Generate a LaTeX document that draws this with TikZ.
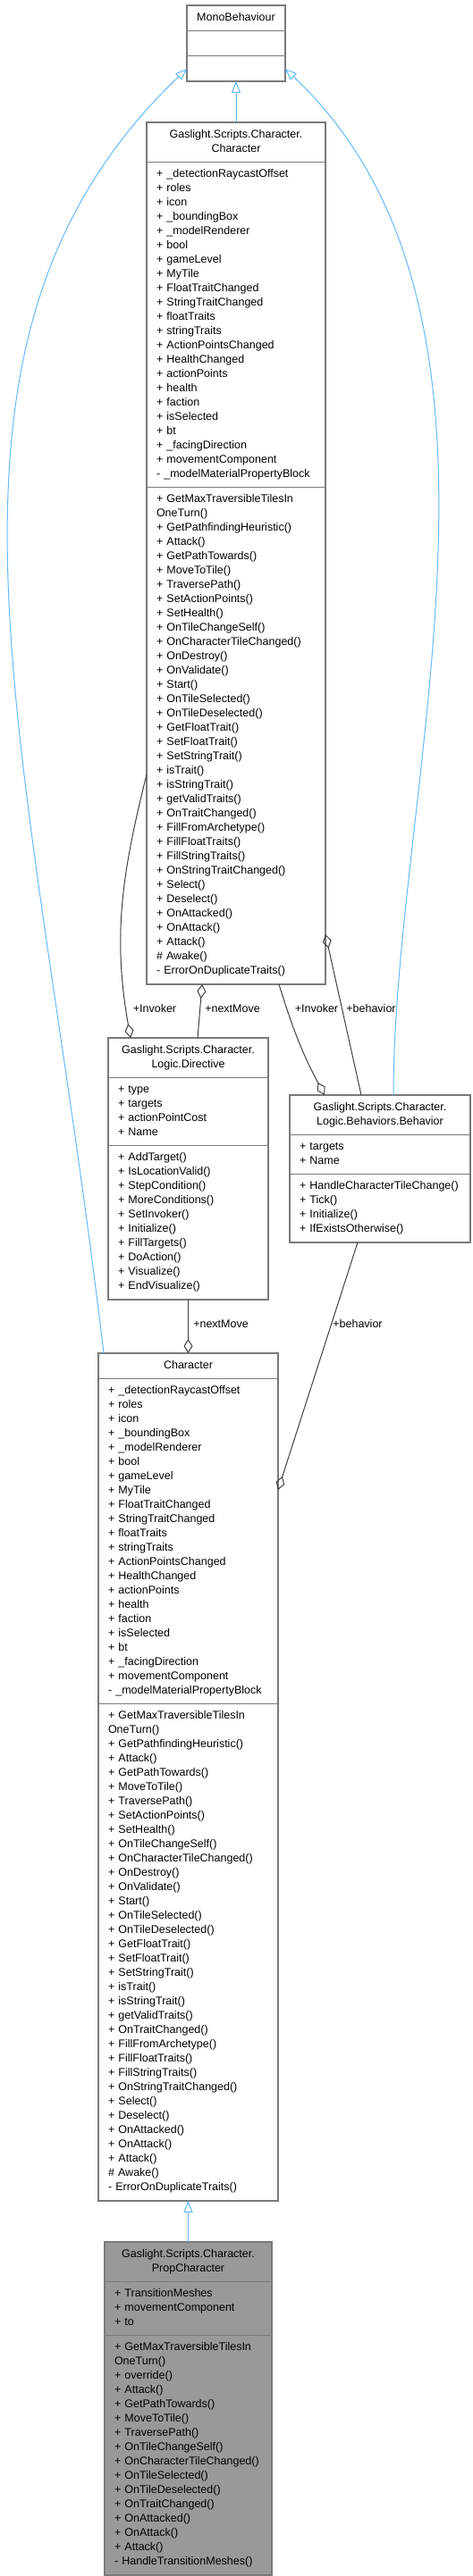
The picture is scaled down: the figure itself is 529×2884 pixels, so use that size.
\documentclass[tikz,border=0pt]{standalone}
\usepackage{fontspec}
\newfontfamily\doxyfont{Liberation Sans}
\usetikzlibrary{arrows.meta,shapes.multipart,calc}
\definecolor{doxyBorder}{HTML}{7A7A7A}
\definecolor{doxyFill}{HTML}{999999}
\definecolor{doxyBlue}{HTML}{63B8FF}
\definecolor{doxyDark}{HTML}{404040}
\newcommand{\doxysize}{\doxyfont\fontsize{12.5}{16}\selectfont}
\newcommand{\umltitle}[1]{\centering\strut#1\strut\par}
\newcommand{\umlrows}[1]{\strut#1\strut}
\newcommand{\charFields}{%
+ \_detectionRaycastOffset\\+ roles\\+ icon\\+ \_boundingBox\\+ \_modelRenderer\\%
+ bool\\+ gameLevel\\+ MyTile\\+ FloatTraitChanged\\+ StringTraitChanged\\%
+ floatTraits\\+ stringTraits\\+ ActionPointsChanged\\+ HealthChanged\\%
+ actionPoints\\+ health\\+ faction\\+ isSelected\\+ bt\\+ \_facingDirection\\%
+ movementComponent\\- \_modelMaterialPropertyBlock}
\newcommand{\charMethods}{%
+ GetMaxTraversibleTilesIn\\OneTurn()\\+ GetPathfindingHeuristic()\\+ Attack()\\%
+ GetPathTowards()\\+ MoveToTile()\\+ TraversePath()\\+ SetActionPoints()\\%
+ SetHealth()\\+ OnTileChangeSelf()\\+ OnCharacterTileChanged()\\+ OnDestroy()\\%
+ OnValidate()\\+ Start()\\+ OnTileSelected()\\+ OnTileDeselected()\\%
+ GetFloatTrait()\\+ SetFloatTrait()\\+ SetStringTrait()\\+ isTrait()\\%
+ isStringTrait()\\+ getValidTraits()\\+ OnTraitChanged()\\+ FillFromArchetype()\\%
+ FillFloatTraits()\\+ FillStringTraits()\\+ OnStringTraitChanged()\\+ Select()\\%
+ Deselect()\\+ OnAttacked()\\+ OnAttack()\\+ Attack()\\\# Awake()\\%
- ErrorOnDuplicateTraits()}

\begin{document}
\begin{tikzpicture}[
  x=1pt,y=-1pt,
  classbox/.style={
    rectangle split,
    rectangle split parts=3,
    draw=doxyBorder,
    line width=1.3pt,
    fill=white,
    inner xsep=11pt,
    inner ysep=5.5pt,
    outer sep=0pt,
    text width=#1,
    align=left,
    font=\doxysize,
    anchor=north west
  },
  edgelabel/.style={font=\doxysize,inner sep=0pt},
  inherit/.style={-{Triangle[open,length=13pt,width=10pt]},doxyBlue,line width=1pt},
  aggregate/.style={{Diamond[open,length=16pt,width=10pt]}-,doxyDark,line width=1pt}
]
  \useasboundingbox (0,0) rectangle (529,2884);

  \node[classbox=88pt] (mono) at (209,6)
    {\umltitle{MonoBehaviour}\nodepart{two}\strut\nodepart{three}\strut};
  \node[classbox=178pt] (gchar) at (164,137)
    {\umltitle{Gaslight.Scripts.Character.\\Character}
     \nodepart{two}\umlrows{\charFields}
     \nodepart{three}\umlrows{\charMethods}};
  \node[classbox=157pt] (dir) at (121,1162)
    {\umltitle{Gaslight.Scripts.Character.\\Logic.Directive}
     \nodepart{two}\umlrows{+ type\\+ targets\\+ actionPointCost\\+ Name}
     \nodepart{three}\umlrows{+ AddTarget()\\+ IsLocationValid()\\+ StepCondition()\\+ MoreConditions()\\+ SetInvoker()\\+ Initialize()\\+ FillTargets()\\+ DoAction()\\+ Visualize()\\+ EndVisualize()}};
  \node[classbox=180pt] (beh) at (324,1226)
    {\umltitle{Gaslight.Scripts.Character.\\Logic.Behaviors.Behavior}
     \nodepart{two}\umlrows{+ targets\\+ Name}
     \nodepart{three}\umlrows{+ HandleCharacterTileChange()\\+ Tick()\\+ Initialize()\\+ IfExistsOtherwise()}};
  \node[classbox=179pt] (char) at (110,1515)
    {\umltitle{Character}
     \nodepart{two}\umlrows{\charFields}
     \nodepart{three}\umlrows{\charMethods}};
  \node[classbox=165pt,fill=doxyFill] (prop) at (117,2510)
    {\umltitle{Gaslight.Scripts.Character.\\PropCharacter}
     \nodepart{two}\umlrows{+ TransitionMeshes\\+ movementComponent\\+ to}
     \nodepart{three}\umlrows{+ GetMaxTraversibleTilesIn\\OneTurn()\\+ override()\\+ Attack()\\+ GetPathTowards()\\+ MoveToTile()\\+ TraversePath()\\+ OnTileChangeSelf()\\+ OnCharacterTileChanged()\\+ OnTileSelected()\\+ OnTileDeselected()\\+ OnTraitChanged()\\+ OnAttacked()\\+ OnAttack()\\+ Attack()\\- HandleTransitionMeshes()}};

  % inheritance
  \draw[inherit] (gchar.north) -- (mono.south);
  \draw[inherit] ($(char.north west)+(6,0)$) .. controls +(-82,-695) and +(-324,310) .. ($(mono.north west)+(0,71)$);
  \draw[inherit] ($(beh.north west)+(116,0)$) .. controls +(0,-350) and +(291,275) .. ($(mono.north east)+(0,71)$);
  \draw[inherit] (prop.north) -- (char.south);

  % aggregation
  \draw[aggregate] ($(dir.north west)+(25,0)$) to[out=100,in=256] ($(gchar.north west)+(0,730)$);
  \draw[aggregate] ($(gchar.south west)+(62,0)$) -- ($(dir.north west)+(100,0)$);
  \draw[aggregate] ($(beh.north west)+(39,0)$) to[out=118,in=287] ($(gchar.south west)+(148,0)$);
  \draw[aggregate] ($(gchar.north east)+(0,909)$) -- ($(beh.north west)+(80,0)$);
  \draw[aggregate] (char.north) -- (dir.south);
  \draw[aggregate] ($(char.north east)+(0,153)$) -- ($(beh.south west)+(76,0)$);

  \node[edgelabel] (lblInvDir) at (173,1129) {+Invoker};
  \node[edgelabel] (lblNextUp) at (260,1129) {+nextMove};
  \node[edgelabel] (lblInvBeh) at (354,1129) {+Invoker};
  \node[edgelabel] (lblBehUp) at (415,1129) {+behavior};
  \node[edgelabel] (lblNextLow) at (247,1482) {+nextMove};
  \node[edgelabel] (lblBehLow) at (400,1482) {+behavior};
\end{tikzpicture}
\end{document}
